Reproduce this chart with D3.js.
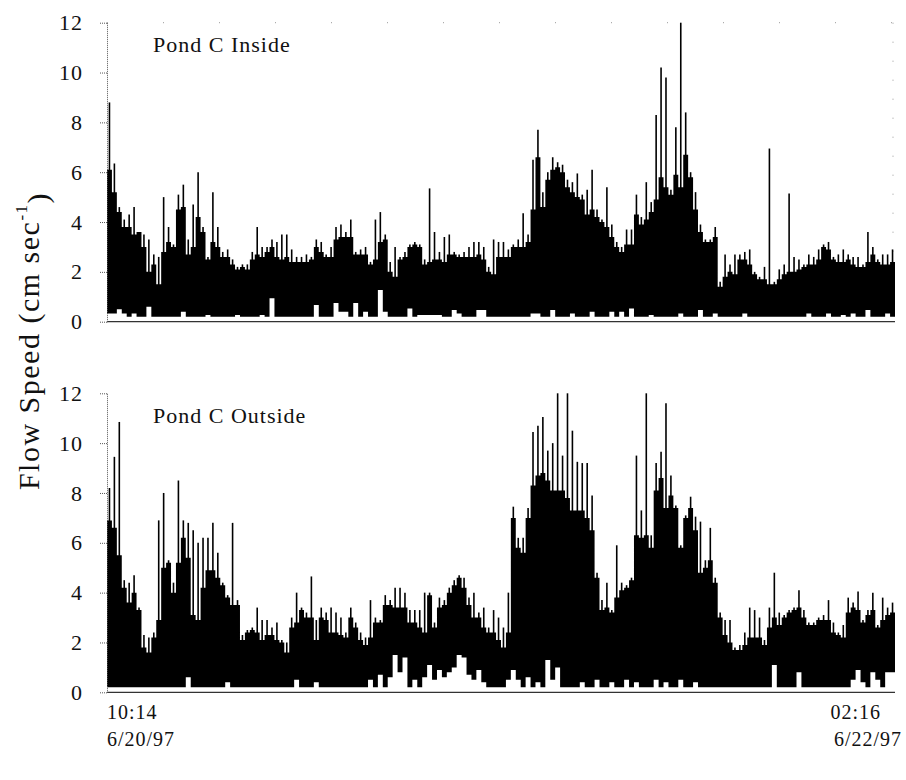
<!DOCTYPE html>
<html>
<head>
<meta charset="utf-8">
<script src="https://cdn.jsdelivr.net/npm/d3@7"></script>
<style>
  html, body { margin: 0; padding: 0; background: #fff; }
  svg { display: block; }
  text { font-family: "Liberation Serif", "Times New Roman", "DejaVu Serif", serif; fill: #111; }
</style>
</head>
<body>
<svg id="chart" width="906" height="780"></svg>
<script>
// ---- Data (flow speed, cm/s), 15-minute bins from 6/20/97 10:14 ----
const binHours = 0.25;
const yTicks = [0, 2, 4, 6, 8, 10, 12];
const xLabels = [["10:14", "6/20/97"], ["02:16", "6/22/97"]];
const panelNames = ["Pond C Inside", "Pond C Outside"];

// Pond C Inside: main body top, thin-spike maxima, bottom minima
const insideBody = [
  6.1,5.2,4.4,3.8,3.8,3.5,3.6,3.0,2.0,2.3,
  1.5,2.8,3.2,3.0,4.5,4.6,2.7,3.0,4.2,3.6,
  2.5,3.2,3.0,2.6,2.6,2.3,2.1,2.2,2.1,2.5,
  2.7,2.6,2.8,3.0,2.6,2.5,2.6,2.4,2.4,2.4,
  2.4,2.5,3.0,2.8,2.6,2.6,3.3,3.4,3.4,3.4,
  2.7,2.7,2.7,2.3,2.5,3.2,3.3,2.0,1.8,2.5,
  2.6,3.0,3.1,3.0,2.3,2.4,2.5,2.5,2.4,2.7,
  2.7,2.6,2.6,2.6,2.6,2.7,2.5,2.0,1.9,2.6,
  2.6,2.6,3.0,3.0,3.0,3.2,4.5,6.6,4.6,5.7,
  6.1,6.2,6.0,5.4,5.2,5.0,4.9,4.3,4.5,4.2,
  4.0,3.8,3.4,3.0,2.8,3.1,3.1,4.3,3.9,4.1,
  4.4,4.9,5.8,5.4,5.1,5.9,5.4,6.7,5.8,4.5,
  3.6,3.2,3.2,3.4,1.4,1.8,2.0,1.9,2.5,2.5,
  2.3,1.9,1.7,1.7,1.5,1.5,1.7,1.9,2.0,2.0,
  2.1,2.2,2.3,2.3,2.5,3.0,2.9,2.5,2.4,2.4,
  2.5,2.3,2.2,2.2,2.4,2.7,2.4,2.3,2.3,2.4
];
const insidePeak = [
  8.8,6.35,4.6,4.1,4.3,4.6,3.6,3.5,3.3,2.7,
  2.6,5.0,3.8,3.1,5.1,5.5,3.3,4.7,6.0,3.8,
  2.6,5.2,3.8,2.8,2.9,2.5,2.2,2.3,2.3,2.8,
  3.8,3.0,3.0,3.3,3.2,3.5,3.5,2.9,2.6,2.6,
  2.7,2.6,3.3,3.2,2.7,3.0,3.8,3.9,3.6,4.1,
  2.8,2.9,3.0,2.4,4.1,4.4,3.5,2.4,3.0,2.6,
  2.8,3.1,3.2,3.1,2.5,5.35,3.6,2.8,3.4,3.5,
  2.8,2.7,2.8,3.0,3.2,3.2,3.0,2.2,3.3,3.2,
  3.2,2.9,3.1,3.3,4.35,3.5,6.5,7.7,5.2,6.0,
  6.6,6.4,6.3,5.7,5.6,5.95,5.1,5.3,6.1,4.5,
  4.1,5.4,3.9,3.2,3.0,3.7,3.7,5.1,4.2,5.6,
  4.8,8.3,10.2,9.8,5.3,7.8,12.0,8.4,6.0,5.2,
  3.9,3.3,3.3,3.8,1.6,2.7,2.3,2.7,2.7,2.8,
  2.9,2.0,1.8,2.2,6.95,1.6,2.1,2.3,5.15,2.6,
  2.5,2.3,2.7,2.6,2.9,3.1,3.2,2.6,2.7,2.9,
  2.7,2.6,2.6,2.3,3.6,3.0,2.5,2.7,2.7,2.9
];
const insideLow = [
  .33,.33,.5,.33,.2,.33,.2,.2,.6,.2,
  .2,.2,.2,.2,.2,.4,.2,.2,.2,.2,
  .27,.2,.2,.2,.2,.2,.27,.2,.2,.2,
  .2,.27,.2,.94,.2,.2,.2,.2,.2,.2,
  .2,.2,.67,.2,.2,.2,.75,.4,.4,.2,
  .75,.2,.4,.2,.2,1.27,.4,.2,.2,.2,
  .2,.53,.2,.27,.27,.27,.27,.27,.2,.2,
  .47,.33,.2,.2,.2,.47,.47,.2,.2,.2,
  .2,.2,.2,.2,.2,.2,.33,.33,.2,.2,
  .47,.2,.2,.2,.33,.2,.2,.2,.4,.2,
  .2,.2,.4,.2,.4,.2,.53,.2,.2,.2,
  .27,.2,.2,.2,.2,.2,.33,.2,.2,.2,
  .47,.2,.2,.33,.2,.2,.2,.2,.2,.33,
  .2,.2,.2,.2,.2,.2,.2,.2,.2,.2,
  .2,.2,.33,.2,.2,.2,.33,.2,.2,.27,
  .2,.33,.2,.2,.47,.2,.2,.2,.33,.2
];

// Pond C Outside
const outsideBody = [
  6.9,6.6,5.5,4.2,3.6,4.0,3.3,1.8,1.6,2.2,
  2.9,5.0,5.2,4.0,5.2,6.2,5.4,3.1,2.9,4.2,
  4.9,4.9,4.6,4.3,3.8,3.5,3.5,2.1,2.4,2.5,
  2.4,2.1,2.3,2.3,2.1,2.0,1.6,2.6,2.8,3.3,
  3.0,3.0,2.1,3.0,2.9,2.4,2.4,2.3,2.2,3.0,
  2.6,2.1,1.9,2.2,2.8,2.8,3.5,3.5,3.4,3.4,
  3.4,2.8,2.8,2.6,2.4,3.9,2.6,3.4,3.5,4.0,
  4.3,4.6,4.2,3.5,3.0,3.0,2.6,2.4,2.4,2.1,
  1.8,2.4,7.0,5.8,5.6,7.0,8.3,8.7,8.8,8.5,
  8.1,8.1,8.1,7.8,7.3,7.3,7.3,7.0,6.5,4.6,
  3.3,3.4,3.2,3.8,4.1,4.2,4.5,6.3,6.2,6.3,
  5.8,8.1,8.6,7.4,7.9,7.4,5.8,7.0,7.4,6.5,
  4.8,5.0,5.3,4.4,3.0,2.3,2.0,1.7,1.7,1.9,
  2.2,2.2,2.2,1.9,2.6,3.0,2.7,3.0,3.2,3.3,
  3.4,3.0,2.7,2.7,2.9,2.9,2.9,2.4,2.3,2.2,
  3.2,3.4,3.3,2.8,3.1,3.3,2.6,2.9,3.1,3.2
];
const outsidePeak = [
  8.2,9.45,10.85,4.5,4.4,4.7,3.4,2.3,2.2,2.4,
  6.9,8.0,5.3,4.4,8.5,6.9,6.8,6.5,6.0,6.2,
  6.2,6.8,5.6,4.4,3.9,6.8,3.7,2.3,2.5,2.6,
  3.4,2.9,2.9,2.6,2.8,2.1,2.0,3.0,4.0,3.4,
  3.2,4.65,2.9,3.4,3.2,3.4,3.2,3.0,2.4,3.4,
  2.8,2.4,2.2,3.7,3.0,2.9,3.9,3.7,4.2,4.2,
  4.0,3.3,3.3,3.3,4.0,4.0,2.8,3.8,3.7,4.2,
  4.5,4.7,4.6,3.8,4.0,3.2,3.4,2.6,3.3,3.0,
  2.6,4.0,7.45,6.2,6.2,7.4,10.45,10.7,11.05,9.7,
  10.0,12.0,9.5,12.0,10.5,9.25,9.2,9.2,7.9,4.8,
  3.7,4.4,3.3,5.9,4.4,4.3,4.6,9.5,7.3,12.0,
  6.3,9.2,9.65,11.6,8.7,7.5,5.9,7.1,7.85,7.05,
  6.85,5.3,6.6,4.6,3.2,2.9,2.9,1.8,1.9,2.4,
  3.4,3.3,3.0,2.1,3.4,4.8,3.2,3.1,3.3,3.4,
  4.1,3.3,2.8,2.8,3.0,3.1,3.7,2.8,2.4,2.7,
  3.8,3.6,4.05,2.9,3.3,4.0,2.7,3.8,3.4,3.6
];
const outsideLow = [
  .2,.2,.2,.2,.2,.2,.2,.2,.2,.2,
  .2,.2,.2,.2,.2,.2,.6,.2,.2,.2,
  .2,.2,.2,.2,.4,.2,.2,.2,.2,.2,
  .2,.2,.2,.2,.2,.2,.2,.2,.5,.2,
  .2,.2,.4,.2,.2,.2,.2,.2,.2,.2,
  .2,.2,.2,.5,.2,.7,.2,.6,1.5,.8,
  1.4,.2,.5,.2,.6,1.1,.5,.9,.6,.8,
  1.0,1.5,1.4,.7,.5,.9,.4,.2,.2,.2,
  .2,.5,.9,.5,.2,.6,.2,.4,.2,1.3,
  .5,1.0,.2,.2,.2,.2,.4,.2,.2,.5,
  .2,.2,.4,.2,.2,.5,.2,.4,.2,.2,
  .2,.5,.2,.4,.2,.2,.5,.2,.2,.4,
  .2,.2,.2,.2,.2,.2,.2,.2,.2,.2,
  .2,.2,.2,.2,.2,1.1,.2,.2,.2,.2,
  .8,.2,.2,.2,.2,.2,.2,.2,.2,.2,
  .2,.5,.9,.4,.2,.8,.5,.2,.8,.8
];

// ---- Drawing ----
const svg = d3.select("#chart");
const totalHours = insideBody.length * binHours;
const x = d3.scaleLinear().domain([0, totalHours]).range([107, 895]);

const panels = [
  { name: panelNames[0], body: insideBody, peak: insidePeak, low: insideLow, top: 22.7, bottom: 321.7, frame: true },
  { name: panelNames[1], body: outsideBody, peak: outsidePeak, low: outsideLow, top: 393.3, bottom: 692.3, frame: false }
];

panels.forEach(p => {
  const y = d3.scaleLinear().domain([0, 12]).range([p.bottom, p.top]);
  const g = svg.append("g");

  const bins = p.body.map((b, i) => ({ t: i * binHours, body: b, peak: p.peak[i], low: p.low[i] }));
  const last = bins[bins.length - 1];
  const stepData = bins.concat([{ t: totalHours, body: last.body, low: last.low }]);

  // faint dotted frame (top panel)
  if (p.frame) {
    g.append("line").attr("x1", x(0)).attr("x2", x(totalHours) - 2)
      .attr("y1", y(12)).attr("y2", y(12))
      .attr("stroke", "#999").attr("stroke-dasharray", "1,55");
    g.append("line").attr("x1", x(totalHours) - 2).attr("x2", x(totalHours) - 2)
      .attr("y1", y(12)).attr("y2", y(0))
      .attr("stroke", "#999").attr("stroke-dasharray", "1,18");
  }

  // main filled body
  const area = d3.area()
    .x(d => x(d.t))
    .y0(d => y(d.low))
    .y1(d => y(d.body))
    .curve(d3.curveStepAfter);
  g.append("path").datum(stepData).attr("d", area).attr("fill", "#000");

  // thin spikes
  g.selectAll("line.spike").data(bins).enter().append("line")
    .attr("class", "spike")
    .attr("x1", d => x(d.t + binHours / 2)).attr("x2", d => x(d.t + binHours / 2))
    .attr("y1", d => y(d.body) + 1).attr("y2", d => y(d.peak))
    .attr("stroke", "#000").attr("stroke-width", 1.6);

  // baseline at zero
  g.append("line").attr("x1", x(0)).attr("x2", x(totalHours))
    .attr("y1", y(0)).attr("y2", y(0))
    .attr("stroke", "#333").attr("stroke-width", 1.2);

  // y axis
  const axis = d3.axisLeft(y).tickValues(yTicks).tickSize(7).tickSizeOuter(0).tickPadding(17);
  const ag = g.append("g").attr("transform", `translate(${x(0)},0)`).call(axis);
  ag.select(".domain").attr("stroke", "#555").attr("stroke-dasharray", "1,1");
  ag.selectAll(".tick line").attr("stroke", "#555").attr("stroke-dasharray", "1,1");
  ag.selectAll(".tick text")
    .style("font-family", '"Liberation Serif", "Times New Roman", serif')
    .style("font-size", "22px").style("letter-spacing", "1px").attr("fill", "#111");

  // panel label
  g.append("text").attr("x", 153).attr("y", p.top + 29.5)
    .style("font-size", "22px").style("letter-spacing", "1px")
    .text(p.name);
});

// y-axis title
const title = svg.append("text")
  .attr("transform", "translate(39,341) rotate(-90)")
  .attr("text-anchor", "middle")
  .style("font-size", "30px").style("letter-spacing", "1.5px");
title.append("tspan").text("Flow Speed (cm sec");
title.append("tspan").attr("dy", "-0.7em").style("font-size", "17px").text("-1");
title.append("tspan").attr("dy", "0.7em").text(")");

// x labels
const xl = svg.append("g").style("font-size", "20px").style("letter-spacing", "1px");
xl.append("text").attr("x", 107).attr("y", 719).text(xLabels[0][0]);
xl.append("text").attr("x", 107).attr("y", 746).text(xLabels[0][1]);
xl.append("text").attr("x", 881).attr("y", 719).attr("text-anchor", "end").text(xLabels[1][0]);
xl.append("text").attr("x", 902).attr("y", 746).attr("text-anchor", "end").text(xLabels[1][1]);
</script>
</body>
</html>
